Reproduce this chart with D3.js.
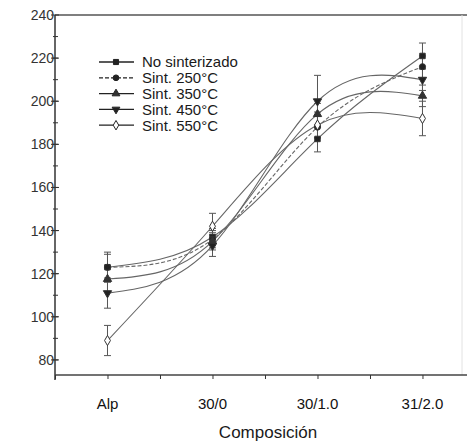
<!DOCTYPE html>
<html>
<head>
<meta charset="utf-8">
<script src="https://cdn.jsdelivr.net/npm/d3@7"></script>
<style>
  body { margin: 0; background: #fff; }
  text { font-family: "Liberation Sans", Arial, sans-serif; fill: #1a1a1a; }
</style>
</head>
<body>
<div id="chart"></div>
<script>
// categories on the x axis
var categories = ["Alp", "30/0", "30/1.0", "31/2.0"]
var seriesNames = ["No sinterizado", "Sint. 250°C", "Sint. 350°C", "Sint. 450°C", "Sint. 550°C"]

// values
var noSint   = [123, 137, 182.5, 221]
var sint250  = [123, 136, 188, 216]
var sint350  = [117.5, 135, 194, 202.5]
var sint450  = [111, 133, 200, 210]
var sint550  = [89, 142, 189, 192]

// error bar half widths
var errNoSint  = [7, 4, 6, 6]
var err250     = [6, 4, 5, 5]
var err350     = [6, 4, 5, 5]
var err450     = [7, 5, 12, 5]
var err550     = [7, 6, 6, 8]

var yTicks = [80, 100, 120, 140, 160, 180, 200, 220, 240]

var width = 467, height = 441
var plotLeft = 55, plotTop = 15, plotBottom = 375

var svg = d3.select('#chart').append('svg')
    .attr('width', width)
    .attr('height', height)

var x = d3.scaleLinear()
    .domain([-0.5, 3.424])
    .range([plotLeft, width])

var y = d3.scaleLinear()
    .domain([73, 240])
    .range([plotBottom, plotTop])

var series = [
  {name: seriesNames[0], values: noSint,  err: errNoSint, symbol: d3.symbolSquare,   rot: 0,   fill: "#222", dash: null},
  {name: seriesNames[1], values: sint250, err: err250,    symbol: d3.symbolCircle,   rot: 0,   fill: "#222", dash: "4,2"},
  {name: seriesNames[2], values: sint350, err: err350,    symbol: d3.symbolTriangle, rot: 0,   fill: "#333", dash: null},
  {name: seriesNames[3], values: sint450, err: err450,    symbol: d3.symbolTriangle, rot: 180, fill: "#222", dash: null},
  {name: seriesNames[4], values: sint550, err: err550,    symbol: d3.symbolDiamond,  rot: 0,   fill: "#fff", dash: null}
]

// frame
svg.append("line").attr("x1", plotLeft).attr("x2", width).attr("y1", plotTop).attr("y2", plotTop)
    .attr("stroke", "#555").attr("stroke-width", 1.5)
svg.append("line").attr("x1", 462).attr("x2", 462).attr("y1", plotTop).attr("y2", plotBottom)
    .attr("stroke", "#e2e2e2").attr("stroke-width", 1)

// y axis
var yAxis = svg.append("g").attr("transform", "translate(" + plotLeft + ",0)")
yAxis.append("line").attr("y1", plotTop).attr("y2", plotBottom + 5)
    .attr("stroke", "#333").attr("stroke-width", 1.5)
yAxis.selectAll(".minor").data(d3.range(80, 240, 10)).enter().append("line")
    .attr("x1", -2).attr("x2", 3)
    .attr("y1", function(d){ return y(d) }).attr("y2", function(d){ return y(d) })
    .attr("stroke", "#333")
yAxis.selectAll(".major").data(yTicks).enter().append("line")
    .attr("x1", -4).attr("x2", 4)
    .attr("y1", function(d){ return y(d) }).attr("y2", function(d){ return y(d) })
    .attr("stroke", "#333")
yAxis.selectAll(".lab").data(yTicks).enter().append("text")
    .attr("x", -1).attr("y", function(d){ return y(d) })
    .attr("dy", "0.36em")
    .attr("text-anchor", "end")
    .style("font-size", "14px")
    .style("fill", "#333")
    .text(function(d){ return d })

// x axis
svg.append("g")
    .attr("transform", "translate(0," + plotBottom + ")")
    .call(d3.axisBottom(x).tickValues(d3.range(-0.5, 3.6, 0.5)).tickSize(4).tickFormat(""))
    .call(function(g){
      g.select(".domain").attr("stroke", "#444").attr("stroke-width", 1.5).attr("d", "M" + plotLeft + ",0H" + width)
      g.selectAll(".tick line").attr("stroke", "#333")
    })
svg.selectAll(".xlab").data(categories).enter().append("text")
    .attr("x", function(d, i){ return x(i) })
    .attr("y", 409)
    .attr("text-anchor", "middle")
    .style("font-size", "15px")
    .style("fill", "#111")
    .text(function(d){ return d })
svg.append("text")
    .attr("x", 268).attr("y", 438)
    .attr("text-anchor", "middle")
    .style("font-size", "17px")
    .text("Composición")

// curves
var line = d3.line()
    .x(function(d, i){ return x(i) })
    .y(function(d){ return y(d) })
    .curve(d3.curveNatural)

svg.append("g").selectAll("path").data(series).enter().append("path")
    .attr("d", function(s){ return line(s.values) })
    .attr("fill", "none")
    .attr("stroke", "#666")
    .attr("stroke-width", 1.1)
    .attr("stroke-dasharray", function(s){ return s.dash })

// error bars
series.forEach(function(s){
  var g = svg.append("g")
  s.values.forEach(function(v, i){
    var cx = x(i)
    g.append("line").attr("x1", cx).attr("x2", cx)
        .attr("y1", y(v - s.err[i])).attr("y2", y(v + s.err[i]))
        .attr("stroke", "#555")
    g.append("line").attr("x1", cx - 3.5).attr("x2", cx + 3.5)
        .attr("y1", y(v + s.err[i])).attr("y2", y(v + s.err[i])).attr("stroke", "#555")
    g.append("line").attr("x1", cx - 3.5).attr("x2", cx + 3.5)
        .attr("y1", y(v - s.err[i])).attr("y2", y(v - s.err[i])).attr("stroke", "#555")
  })
})

// markers
series.forEach(function(s){
  svg.append("g").selectAll("path").data(s.values).enter().append("path")
      .attr("d", d3.symbol().type(s.symbol).size(30))
      .attr("transform", function(d, i){ return "translate(" + x(i) + "," + y(d) + ") rotate(" + s.rot + ")" })
      .attr("fill", s.fill)
      .attr("stroke", "#333")
      .attr("stroke-width", 1)
})

// legend
var legend = svg.append("g")
series.forEach(function(s, i){
  var ly = 62 + i * 15.8
  legend.append("line").attr("x1", 99).attr("x2", 134).attr("y1", ly).attr("y2", ly)
      .attr("stroke", "#222").attr("stroke-width", 1.3)
      .attr("stroke-dasharray", s.dash)
  legend.append("path")
      .attr("d", d3.symbol().type(s.symbol).size(26))
      .attr("transform", "translate(116," + ly + ") rotate(" + s.rot + ")")
      .attr("fill", s.fill)
      .attr("stroke", "#222")
  legend.append("text").attr("x", 142).attr("y", ly)
      .attr("dy", "0.36em")
      .style("font-size", "15px")
      .text(s.name)
})
</script>
</body>
</html>
